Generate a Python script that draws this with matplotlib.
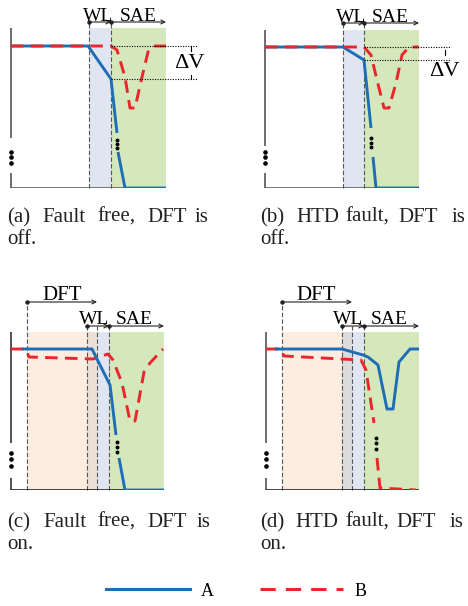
import numpy as np
import matplotlib
matplotlib.use('Agg')
import matplotlib.pyplot as plt
from matplotlib.lines import Line2D

plt.rcParams['font.family'] = ['Liberation Serif', 'DejaVu Serif']

nan = np.nan
BLUE = '#1f6db5'
RED = '#e8262b'
C_WL = '#dfe6f1'
C_SAE = '#d5e8bc'
C_DFT = '#fdede0'
C_OVL_C = '#ecdfd6'
C_OVL_D = '#dcdcdc'

# ---------------- data (time in a.u., voltage in a.u.) ----------------
# (a) Fault free, DFT off
a_blue_t = [0, 77, 100, 106, nan, 107, 114, 155]
a_blue_v = [142, 142, 109, 55, nan, 36, 0, 0]
a_red_t = [0, 100, 106, 114, 119, 124, 131, 137, 142, 155]
a_red_v = [142, 142, 138, 111, 80, 80, 111, 136, 142, 142]
a_wl = [78, 100]
a_sae = [100, 155]
a_dv = [142, 109]

# (b) HTD fault, DFT off
b_blue_t = [0, 78, 99, 106, nan, 108, 111, 154]
b_blue_v = [141, 141, 128, 60, nan, 31, 0, 0]
b_red_t = [0, 99, 106, 112, 119, 124, 131, 137, 144, 154]
b_red_v = [141, 141, 133, 108, 80, 80, 105, 133, 141, 141]
b_wl = [78, 99]
b_sae = [99, 154]
b_dv = [141, 128]

# (c) Fault free, DFT on
c_blue_t = [11, 81, 99, 105, nan, 108, 114, 153]
c_blue_v = [141, 141, 105, 55, nan, 32, 0, 0]
c_red_t = [0, 15, 18, 82, 97, 102, 111, 119, 124, 131, 133, 139, 152]
c_red_v = [141, 141, 133, 131, 136, 130, 107, 69, 69, 107, 118, 127, 141]
c_dft = [16, 86]
c_wl = [76, 98]
c_sae = [98, 153]

# (d) HTD fault, DFT on
d_blue_t = [10, 76, 97, 102, 112, 121, 127, 133, 144, 153]
d_blue_v = [141, 141, 135, 133, 125, 81, 81, 128, 141, 141]
d_red_t = [0, 15, 18, 95, 100, 108, nan, 111, 114, 150]
d_red_v = [141, 141, 134, 130, 120, 67, nan, 32, 2, 0]
d_dft = [16, 86]
d_wl = [76, 98]
d_sae = [98, 153]

captions_ab = [["(a)", "Fault", "free,", "DFT", "is"], ["(b)", "HTD", "fault,", "DFT", "is"]]
captions_cd = [["(c)", "Fault", "free,", "DFT", "is"], ["(d)", "HTD", "fault,", "DFT", "is"]]
caption_line2 = ["off.", "off.", "on.", "on."]
legend_labels = ["A", "B"]

W, H = 468, 606
fig = plt.figure(figsize=(W / 100, H / 100), dpi=100)


def make_ax(left, bottom, w, h):
    ax = fig.add_axes([left / W, (H - bottom) / H, w / W, h / H])
    ax.set_xlim(0, w)
    ax.set_ylim(0, h)
    ax.axis('off')
    return ax


def vdash(ax, t, top):
    ax.plot([t, t], [0, top], color='#555555', lw=0.8, ls=(0, (4, 2)), zorder=2, clip_on=False)


def span_arrow(ax, t0, t1, v, head=True):
    ax.annotate('', xy=(t1, v), xytext=(t0, v),
                arrowprops=dict(arrowstyle='->', lw=0.8, color='#222222',
                                shrinkA=0, shrinkB=0, mutation_scale=7),
                annotation_clip=False)
    ax.plot([t0], [v], marker='o', ms=2.2, color='#222222', clip_on=False)


def left_axis(ax, top, gap_hi, gap_lo, dots, color='#444444'):
    ax.plot([0, 0], [gap_hi, top], color=color, lw=1.1, clip_on=False, solid_capstyle='butt')
    ax.plot([0, 0], [0, gap_lo], color=color, lw=1.1, clip_on=False, solid_capstyle='butt')
    ax.plot([0] * len(dots), dots, 'o', ms=2.3, color='black', clip_on=False)


def gap_dots(ax, t, vs):
    ax.plot([t] * len(vs), vs, 'o', ms=1.8, color='black', zorder=6, clip_on=False)


LW = 2.1
DASH = (0, (4.3, 2.5))

# ---------------- (a) ----------------
ax = make_ax(11, 188, 155, 160)
ax.axvspan(a_wl[0], a_wl[1], color=C_WL, lw=0, zorder=0)
ax.axvspan(a_sae[0], a_sae[1], color=C_SAE, lw=0, zorder=0)
vdash(ax, a_wl[0], 166)
vdash(ax, a_wl[1], 166)
ax.plot([0, 155], [0, 0], color='#555555', lw=1.1, zorder=3)
left_axis(ax, 160, 50, 15, [36, 31, 25])
ax.plot(a_blue_t, a_blue_v, color=BLUE, lw=LW, zorder=4, solid_capstyle='butt')
ax.plot(a_red_t, a_red_v, color=RED, lw=LW, ls=DASH, zorder=5)
gap_dots(ax, 106, [48, 44, 40])
span_arrow(ax, a_wl[0], a_wl[1], 166)
span_arrow(ax, a_sae[0], a_sae[1], 166)
ax.text(87, 167, "WL", fontsize=14, ha='center', va='baseline')
ax.text(127, 167, "SAE", fontsize=14, ha='center', va='baseline')
for v in a_dv:
    ax.plot([100, 186], [v, v], color='black', lw=0.8, ls=(0, (1, 1.3)), zorder=5, clip_on=False)
ax.plot([180, 180], [a_dv[0], a_dv[0] - 5], color='black', lw=0.8, clip_on=False)
ax.plot([180, 180], [a_dv[1], a_dv[1] + 4], color='black', lw=0.8, clip_on=False)
ax.text(178.5, 125, "ΔV", fontsize=16, ha='center', va='center')

# ---------------- (b) ----------------
ax = make_ax(265, 188, 154, 158)
ax.axvspan(b_wl[0], b_wl[1], color=C_WL, lw=0, zorder=0)
ax.axvspan(b_sae[0], b_sae[1], color=C_SAE, lw=0, zorder=0)
vdash(ax, b_wl[0], 165)
vdash(ax, b_wl[1], 165)
ax.plot([0, 154], [0, 0], color='#555555', lw=1.1, zorder=3)
left_axis(ax, 158, 42, 15, [36, 31, 25])
ax.plot(b_blue_t, b_blue_v, color=BLUE, lw=LW, zorder=4, solid_capstyle='butt')
ax.plot(b_red_t, b_red_v, color=RED, lw=LW, ls=DASH, zorder=5)
gap_dots(ax, 106, [50, 45, 41])
span_arrow(ax, b_wl[0], b_wl[1], 165)
span_arrow(ax, b_sae[0], b_sae[1], 165)
ax.text(85.7, 166.5, "WL", fontsize=14, ha='center', va='baseline')
ax.text(125.7, 166.5, "SAE", fontsize=14, ha='center', va='baseline')
for v in b_dv:
    ax.plot([99, 186], [v, v], color='black', lw=0.8, ls=(0, (1, 1.3)), zorder=5, clip_on=False)
ax.plot([180, 180], [138, 133], color='black', lw=0.8, clip_on=False)
ax.text(179, 116, "ΔV", fontsize=16, ha='center', va='center')

# ---------------- (c) ----------------
ax = make_ax(11, 490, 153, 158)
ax.axvspan(c_dft[0], c_wl[0], color=C_DFT, lw=0, zorder=0)
ax.axvspan(c_wl[0], c_dft[1], color=C_OVL_C, lw=0, zorder=0)
ax.axvspan(c_dft[1], c_wl[1], color=C_WL, lw=0, zorder=0)
ax.axvspan(c_sae[0], c_sae[1], color=C_SAE, lw=0, zorder=0)
vdash(ax, c_dft[0], 188)
vdash(ax, c_wl[0], 164)
vdash(ax, c_dft[1], 164)
vdash(ax, c_wl[1], 164)
ax.plot([98, 98], [136, 116], color='#777777', lw=0.8, ls=(0, (1, 1)), zorder=3)
ax.plot([0, 153], [0, 0], color='#222222', lw=1.2, zorder=3)
left_axis(ax, 158, 47, 12, [37, 31, 24], color='#222222')
ax.plot(c_red_t, c_red_v, color=RED, lw=LW, ls=DASH, zorder=4)
ax.plot(c_blue_t, c_blue_v, color=BLUE, lw=LW, zorder=5, solid_capstyle='butt')
gap_dots(ax, 106, [48, 43, 38])
span_arrow(ax, c_dft[0], c_dft[1], 188)
span_arrow(ax, c_wl[0], c_wl[1], 164)
span_arrow(ax, c_sae[0], c_sae[1], 164)
ax.text(50.7, 190, "DFT", fontsize=15, ha='center', va='baseline')
ax.text(83.5, 165.5, "WL", fontsize=14, ha='center', va='baseline')
ax.text(123.5, 165.5, "SAE", fontsize=14, ha='center', va='baseline')

# ---------------- (d) ----------------
ax = make_ax(266, 490, 153, 158)
ax.axvspan(d_dft[0], d_wl[0], color=C_DFT, lw=0, zorder=0)
ax.axvspan(d_wl[0], d_dft[1], color=C_OVL_D, lw=0, zorder=0)
ax.axvspan(d_dft[1], d_wl[1], color=C_WL, lw=0, zorder=0)
ax.axvspan(d_sae[0], d_sae[1], color=C_SAE, lw=0, zorder=0)
vdash(ax, d_dft[0], 188)
vdash(ax, d_wl[0], 164)
vdash(ax, d_dft[1], 164)
vdash(ax, d_wl[1], 164)
ax.plot([0, 153], [0, 0], color='#111111', lw=1.8, zorder=3)
left_axis(ax, 158, 47, 12, [37, 31, 24])
ax.plot(d_red_t, d_red_v, color=RED, lw=LW, ls=DASH, zorder=4)
ax.plot(d_blue_t, d_blue_v, color=BLUE, lw=LW, zorder=5)
gap_dots(ax, 110, [52, 47, 41])
span_arrow(ax, d_dft[0], d_dft[1], 188)
span_arrow(ax, d_wl[0], d_wl[1], 164)
span_arrow(ax, d_sae[0], d_sae[1], 164)
ax.text(50.5, 190, "DFT", fontsize=15, ha='center', va='baseline')
ax.text(82.5, 165.5, "WL", fontsize=14, ha='center', va='baseline')
ax.text(123, 165.5, "SAE", fontsize=14, ha='center', va='baseline')

# ---------------- captions ----------------
xs_a = [7, 42, 97, 147, 195]
xs_b = [260, 296, 345, 398, 452]
xs_c = [7, 43, 97, 147, 197]
xs_d = [260, 295, 345, 396, 450]


def cap(words, xs, y):
    for w_, x_ in zip(words, xs):
        fig.text(x_ / W, 1 - y / H, w_, fontsize=15, ha='left', va='baseline', color='#222222')


cap(captions_ab[0], xs_a, 222)
cap(captions_ab[1], xs_b, 222)
cap([caption_line2[0]], [7], 244)
cap([caption_line2[1]], [260], 244)
cap(captions_cd[0], xs_c, 527)
cap(captions_cd[1], xs_d, 527)
cap([caption_line2[2]], [7], 549)
cap([caption_line2[3]], [260], 549)

# ---------------- legend ----------------
handles = [Line2D([], [], color=BLUE, lw=2.2),
           Line2D([], [], color=RED, lw=2.2, ls=(0, (5, 3.3)))]
fig.legend(handles, legend_labels, ncol=2, loc='center', bbox_to_anchor=(0.505, 1 - 591 / H),
           frameon=False, fontsize=13, handlelength=4.6, handletextpad=0.6, columnspacing=2.6)

fig.savefig('out.png', dpi=100)
